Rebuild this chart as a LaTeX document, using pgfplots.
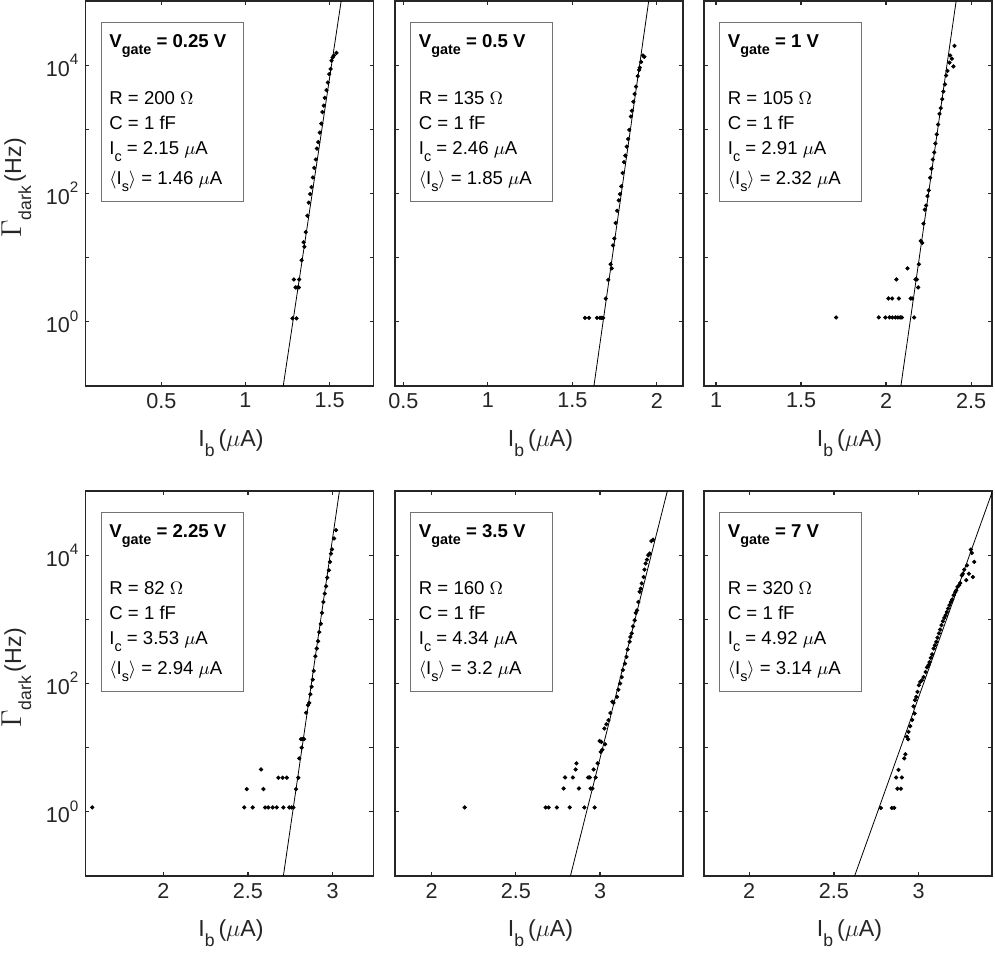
\documentclass[border=0pt]{standalone}
\usepackage{fontspec}
\setmainfont{Liberation Sans}
\usepackage{pgfplots}
\pgfplotsset{compat=1.18}
\definecolor{axgray}{gray}{0.15}
\definecolor{boxgray}{gray}{0.45}
\newcommand\boxfont{\fontsize{9.3}{11}\selectfont}
\newcommand\mysubs[1]{\raisebox{-3.2pt}{\fontsize{7.2}{8}\selectfont #1}}
\newcommand\mysubL[1]{\raisebox{-5pt}{\fontsize{8.8}{10}\selectfont #1}}
\newcommand\mysupt[1]{\raisebox{0.55em}{\fontsize{7.6}{9}\selectfont #1}}
\pgfplotsset{
 every axis/.append style={
  scale only axis, width=144pt, height=192.5pt,
  yminorticks=false,
  tick align=inside,
  major tick length=2pt,
  axis line style={axgray, line width=0.6pt},
  tick style={axgray, line width=0.6pt},
  tick label style={font=\fontsize{10.8}{13}\selectfont, text=axgray},
 },
}
\begin{document}
\begin{tikzpicture}
\useasboundingbox (0,0) rectangle (497.5pt,478pt);
% ---------- Panel 1 ----------
\begin{axis}[ymode=log, ymin=0.1, ymax=1e5, ytick={1,10,100,1000,10000}, yticklabels={10\mysupt{0},,10\mysupt{2},,10\mysupt{4}}, xmin=0.05, xmax=1.76, xtick={0.5,1,1.5}, xticklabels={0.5,1,1.5}, at={(42.75pt,285pt)}, anchor=south west]
\addplot[no marks, black, line width=0.4pt] coordinates {(1.224,0.1) (1.568,1e5)};
\addplot[only marks, mark=*, mark size=0.85pt, black] coordinates {
(1.540,15490) (1.524,14130) (1.517,13180) (1.511,11750) (1.505,8710) (1.497,7240) (1.489,5370) (1.481,4070) (1.471,3090) (1.465,2340) (1.457,1860) (1.450,1230) (1.441,891) (1.432,631) (1.424,501) (1.418,339) (1.408,251) (1.400,178) (1.392,126) (1.384,98) (1.376,72) (1.367,45) (1.358,25) (1.345,17.4) (1.350,14.8) (1.333,9.1) (1.287,4.57) (1.319,4.57) (1.297,3.43) (1.307,3.43) (1.317,3.43) (1.279,1.13) (1.303,1.13)
};
\end{axis}
% ---------- Panel 2 ----------
\begin{axis}[ymode=log, ymin=0.1, ymax=1e5, ytick={1,10,100,1000,10000}, yticklabels={,,,,}, xmin=0.451, xmax=2.155, xtick={0.5,1,1.5,2}, xticklabels={0.5,1,1.5,2}, at={(197.5pt,285pt)}, anchor=south west]
\addplot[no marks, black, line width=0.4pt] coordinates {(1.628,0.1) (1.952,1e5)};
\addplot[only marks, mark=*, mark size=0.85pt, black] coordinates {
(1.926,13490) (1.917,14130) (1.907,11220) (1.899,9120) (1.895,8410) (1.887,6760) (1.877,4620) (1.869,3550) (1.861,2690) (1.853,1950) (1.846,1585) (1.837,977) (1.830,708) (1.822,537) (1.814,389) (1.806,309) (1.798,209) (1.790,129) (1.782,98) (1.775,78) (1.765,53.7) (1.757,34.7) (1.749,19.9) (1.741,15.5) (1.727,7.9) (1.733,6.8) (1.713,4.5) (1.698,2.3) (1.575,1.15) (1.599,1.15) (1.646,1.15) (1.664,1.15) (1.674,1.15) (1.682,1.15)
};
\end{axis}
% ---------- Panel 3 ----------
\begin{axis}[ymode=log, ymin=0.1, ymax=1e5, ytick={1,10,100,1000,10000}, yticklabels={,,,,}, xmin=0.929, xmax=2.623, xtick={1,1.5,2,2.5}, xticklabels={1,1.5,2,2.5}, at={(352pt,285pt)}, anchor=south west]
\addplot[no marks, black, line width=0.4pt] coordinates {(2.087,0.1) (2.412,1e5)};
\addplot[only marks, mark=*, mark size=0.85pt, black] coordinates {
(2.402,19950) (2.377,14130) (2.387,12590) (2.373,10960) (2.396,9550) (2.361,8130) (2.353,6920) (2.346,5010) (2.337,3890) (2.330,2950) (2.322,2140) (2.314,1740) (2.306,1190) (2.298,832) (2.290,603) (2.283,437) (2.275,339) (2.267,243) (2.259,176) (2.251,112) (2.243,91) (2.235,65) (2.228,56) (2.220,34) (2.204,18.2) (2.212,17) (2.193,7.9) (2.126,6.8) (2.181,4.57) (2.173,4.57) (2.061,4.57) (2.189,3.43) (2.153,2.31) (2.145,2.31) (2.075,2.31) (2.036,2.31) (2.014,2.31) (1.706,1.17) (1.957,1.17) (1.996,1.17) (2.020,1.17) (2.037,1.17) (2.055,1.17) (2.069,1.17) (2.083,1.17) (2.093,1.17) (2.165,1.17)
};
\end{axis}
% ---------- Panel 4 ----------
\begin{axis}[ymode=log, ymin=0.1, ymax=1e5, ytick={1,10,100,1000,10000}, yticklabels={10\mysupt{0},,10\mysupt{2},,10\mysupt{4}}, xmin=1.541, xmax=3.241, xtick={2,2.5,3}, xticklabels={2,2.5,3}, at={(42.75pt,40pt)}, anchor=south west]
\addplot[no marks, black, line width=0.4pt] coordinates {(2.709,0.1) (3.04,1e5)};
\addplot[only marks, mark=*, mark size=0.85pt, black] coordinates {
(3.020,24550) (3.008,18200) (2.996,12300) (2.990,10590) (2.984,7850) (2.978,5820) (2.968,4470) (2.961,3270) (2.953,2510) (2.945,1860) (2.937,1260) (2.930,851) (2.921,631) (2.914,457) (2.906,351) (2.898,266) (2.888,157) (2.882,115) (2.876,89) (2.868,68) (2.862,50) (2.854,46) (2.843,35) (2.831,13.6) (2.813,13.6) (2.822,13.6) (2.817,10) (2.803,6.8) (2.797,3.4) (2.784,2.26) (2.729,3.4) (2.705,3.4) (2.679,3.4) (2.577,4.57) (2.591,2.26) (2.493,2.26) (2.768,1.17) (2.758,1.17) (2.744,1.17) (2.709,1.17) (2.670,1.17) (2.646,1.17) (2.620,1.17) (2.601,1.17) (2.528,1.17) (2.478,1.17) (1.581,1.17)
};
\end{axis}
% ---------- Panel 5 ----------
\begin{axis}[ymode=log, ymin=0.1, ymax=1e5, ytick={1,10,100,1000,10000}, yticklabels={,,,,}, xmin=1.782, xmax=3.493, xtick={2,2.5,3}, xticklabels={2,2.5,3}, at={(197.5pt,40pt)}, anchor=south west]
\addplot[no marks, black, line width=0.4pt] coordinates {(2.824,0.1) (3.40,1e5)};
\addplot[only marks, mark=*, mark size=0.85pt, black] coordinates {
(2.196,1.17) (2.677,1.17) (2.695,1.17) (2.744,1.17) (2.820,1.17) (2.907,1.17) (2.968,1.17)
(2.784,2.31) (2.875,2.31) (2.944,2.31) (2.955,2.31)
(2.792,3.43) (2.839,3.43) (2.929,3.43) (2.939,3.43) (2.974,3.43)
(2.855,4.57) (2.962,4.57) (2.860,5.7) (2.986,5.7)
(3.004,8.6) (3.014,9.3) (3.030,11.3) (2.998,12.7) (3.008,12.3) (3.026,19.9) (3.038,23.2) (3.050,26.9) (3.062,34.7) (3.073,52) (3.080,50) (3.101,62) (3.109,80) (3.119,100) (3.129,126) (3.136,162) (3.148,204) (3.157,260) (3.164,339) (3.176,447) (3.180,531) (3.188,603) (3.196,776) (3.206,966) (3.212,1260) (3.220,1380) (3.228,1860) (3.236,2690) (3.242,3020) (3.248,3630) (3.259,4570) (3.264,5960) (3.271,7410) (3.279,8510) (3.287,10000) (3.295,10590) (3.305,16600) (3.315,17400)
};
\end{axis}
% ---------- Panel 6 ----------
\begin{axis}[ymode=log, ymin=0.1, ymax=1e5, ytick={1,10,100,1000,10000}, yticklabels={,,,,}, xmin=1.733, xmax=3.433, xtick={2,2.5,3}, xticklabels={2,2.5,3}, at={(352pt,40pt)}, anchor=south west]
\addplot[no marks, black, line width=0.4pt] coordinates {(2.622,0.1) (3.436,1e5)};
\addplot[only marks, mark=*, mark size=0.85pt, black] coordinates {
(3.308,12220) (3.314,10840) (3.328,7850) (3.285,6920) (3.297,5130) (3.320,4570) (3.281,4070) (3.269,5960) (3.261,5130) (3.255,4840) (3.245,3670) (3.238,3390) (3.229,3200) (3.222,2820) (3.216,2660) (3.206,2370) (3.198,2040) (3.190,1860) (3.182,1660) (3.174,1480) (3.167,1300) (3.159,1160) (3.151,1050) (3.143,933) (3.135,813) (3.127,692) (3.120,603) (3.111,519) (3.104,447) (3.096,394) (3.088,351) (3.080,285) (3.072,251) (3.064,216) (3.058,193) (3.049,178) (3.041,151) (3.029,126) (3.019,112) (3.009,106) (3.001,94) (2.993,74) (2.986,62) (2.978,55) (2.970,44) (2.976,34) (2.962,27) (2.950,21.6) (2.940,17.6) (2.931,14.8) (2.938,13.5) (2.922,7.9) (2.915,6.8) (2.881,4.5) (2.901,3.43) (2.867,3.43) (2.895,2.29) (2.875,2.29) (2.856,1.15) (2.842,1.15) (2.777,1.15)
};
\end{axis}
% ---------- text boxes ----------
\foreach \bx/\by/\tx/\tyA/\tyB/\tyC/\tyD/\tyE/\V/\R/\Ic/\Is in {
 50.5/466.5/54.5/454/425.5/413/400.5/385.5/0.25/200/2.15/1.46,
 205.25/466.5/209.25/454/425.5/413/400.5/385.5/0.5/135/2.46/1.85,
 359.75/466.5/363.75/454/425.5/413/400.5/385.5/1/105/2.91/2.32,
 50.5/221.5/54.5/209/180.5/168/155.5/140.5/2.25/82/3.53/2.94,
 205.25/221.5/209.25/209/180.5/168/155.5/140.5/3.5/160/4.34/3.2,
 359.75/221.5/363.75/209/180.5/168/155.5/140.5/7/320/4.92/3.14}{
 \draw[boxgray, line width=0.5pt, fill=white] (\bx pt,\by pt) rectangle ++(71pt,-89.5pt);
 \node[anchor=base west, inner sep=0pt, font=\boxfont] at (\tx pt,\tyA pt) {\textbf{V\mysubs{gate} = \V{} V}};
 \node[anchor=base west, inner sep=0pt, font=\boxfont] at (\tx pt,\tyB pt) {R = \R{} $\Omega$};
 \node[anchor=base west, inner sep=0pt, font=\boxfont] at (\tx pt,\tyC pt) {C = 1 fF};
 \node[anchor=base west, inner sep=0pt, font=\boxfont] at (\tx pt,\tyD pt) {I\mysubs{c} = \Ic{} $\mu$A};
 \node[anchor=base west, inner sep=0pt, font=\boxfont] at (\tx pt,\tyE pt) {$\langle$I\mysubs{s}$\rangle$ = \Is{} $\mu$A};
}
% ---------- axis labels ----------
\foreach \cx in {115.5,270.25,424.75}{
 \node[anchor=base, inner sep=0pt, text=axgray] at (\cx pt,254.6pt) {\fontsize{11.6}{14}\selectfont I\mysubL{b}\,($\mu$A)};
 \node[anchor=base, inner sep=0pt, text=axgray] at (\cx pt,9.6pt) {\fontsize{11.6}{14}\selectfont I\mysubL{b}\,($\mu$A)};
}
\node[rotate=90, anchor=base, inner sep=0pt, text=axgray] at (10.5pt,384pt) {\fontsize{11.6}{14}\selectfont {\fontsize{13.5}{14}\selectfont$\Gamma$}\mysubL{dark}\,(Hz)};
\node[rotate=90, anchor=base, inner sep=0pt, text=axgray] at (10.5pt,139pt) {\fontsize{11.6}{14}\selectfont {\fontsize{13.5}{14}\selectfont$\Gamma$}\mysubL{dark}\,(Hz)};
\end{tikzpicture}
\end{document}
